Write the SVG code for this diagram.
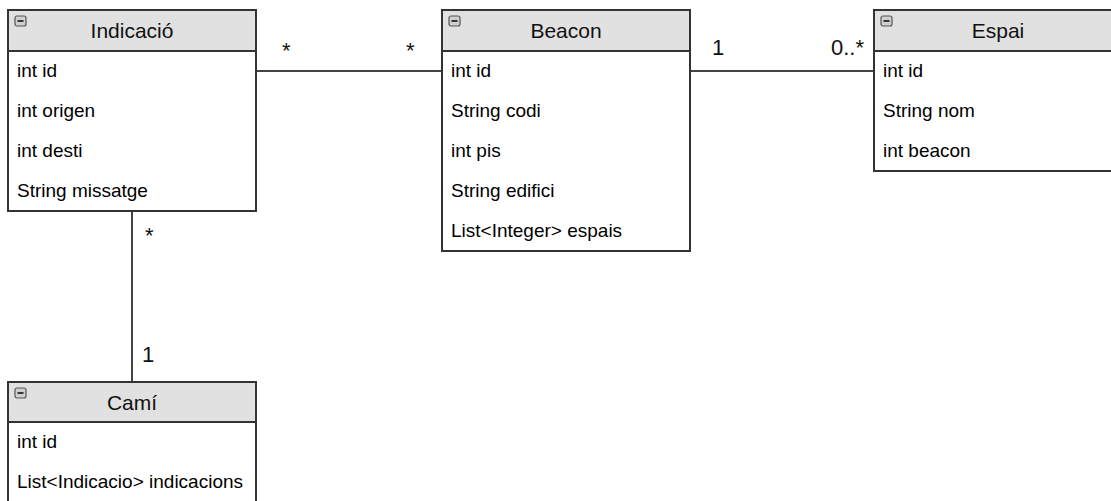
<svg xmlns="http://www.w3.org/2000/svg" width="1111" height="501" viewBox="0 0 1111 501">
  <style>
    .box { fill: #ffffff; stroke: #333333; stroke-width: 2; }
    .head { fill: #e1e1e1; stroke: #333333; stroke-width: 2; }
    .title { font-family: "Liberation Sans", Arial, sans-serif; font-size: 21px; fill: #111111; text-anchor: middle; }
    .attr { font-family: "Liberation Sans", Arial, sans-serif; font-size: 19px; fill: #000000; }
    .mult { font-family: "Liberation Sans", Arial, sans-serif; font-size: 22px; fill: #111111; }
    .edge { stroke: #444444; stroke-width: 2; fill: none; }
    .tog { fill: #cfcfcf; stroke: #555555; stroke-width: 1.2; }
    .tog-dash { stroke: #111111; stroke-width: 1.6; }
  </style>
  <defs>
    <g id="toggle">
      <rect class="tog" x="0" y="0" width="11" height="10" rx="2"/>
      <line class="tog-dash" x1="2.5" y1="5" x2="8.5" y2="5"/>
    </g>
  </defs>
  <rect width="1111" height="501" fill="#ffffff"/>

  <!-- associations -->
  <g id="connectors">
    <line class="edge" x1="256" y1="71" x2="442" y2="71"/>
    <line class="edge" x1="690" y1="71" x2="874" y2="71"/>
    <line class="edge" x1="132" y1="211" x2="132" y2="382"/>
    <text class="mult" x="282" y="58">*</text>
    <text class="mult" x="406" y="58">*</text>
    <text class="mult" x="712" y="55">1</text>
    <text class="mult" x="831" y="55">0..*</text>
    <text class="mult" x="145" y="243">*</text>
    <text class="mult" x="142" y="362">1</text>
  </g>

  <!-- class Indicació -->
  <g id="indicacio">
    <rect class="box" x="8" y="10" width="248" height="201"/>
    <rect class="head" x="8" y="10" width="248" height="41"/>
    <use href="#toggle" x="15" y="16"/>
    <text class="title" x="132" y="38">Indicació</text>
    <text class="attr" x="17" y="77">int id</text>
    <text class="attr" x="17" y="117">int origen</text>
    <text class="attr" x="17" y="157">int desti</text>
    <text class="attr" x="17" y="197">String missatge</text>
  </g>

  <!-- class Beacon -->
  <g id="beacon">
    <rect class="box" x="442" y="10" width="248" height="241"/>
    <rect class="head" x="442" y="10" width="248" height="41"/>
    <use href="#toggle" x="449" y="16"/>
    <text class="title" x="566" y="38">Beacon</text>
    <text class="attr" x="451" y="77">int id</text>
    <text class="attr" x="451" y="117">String codi</text>
    <text class="attr" x="451" y="157">int pis</text>
    <text class="attr" x="451" y="197">String edifici</text>
    <text class="attr" x="451" y="237">List&lt;Integer&gt; espais</text>
  </g>

  <!-- class Espai -->
  <g id="espai">
    <rect class="box" x="874" y="10" width="248" height="161"/>
    <rect class="head" x="874" y="10" width="248" height="41"/>
    <use href="#toggle" x="881" y="16"/>
    <text class="title" x="998" y="38">Espai</text>
    <text class="attr" x="883" y="77">int id</text>
    <text class="attr" x="883" y="117">String nom</text>
    <text class="attr" x="883" y="157">int beacon</text>
  </g>

  <!-- class Camí -->
  <g id="cami">
    <rect class="box" x="8" y="382" width="248" height="130"/>
    <rect class="head" x="8" y="382" width="248" height="40"/>
    <use href="#toggle" x="15" y="388"/>
    <text class="title" x="132" y="410">Camí</text>
    <text class="attr" x="17" y="448">int id</text>
    <text class="attr" x="17" y="488">List&lt;Indicacio&gt; indicacions</text>
  </g>
</svg>
